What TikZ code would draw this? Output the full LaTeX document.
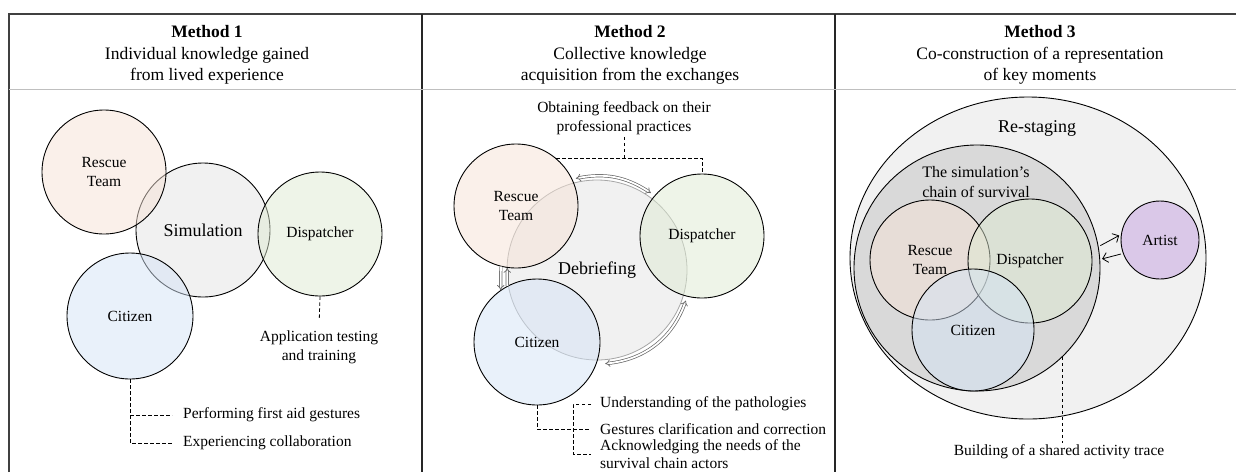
\documentclass[tikz,border=0pt]{standalone}
\usepackage{fontspec}
\setmainfont{Liberation Serif}
\usetikzlibrary{positioning,arrows.meta,shapes.geometric}
\definecolor{rescuecol}{RGB}{245,226,214}
\definecolor{dispcol}{RGB}{222,234,210}
\definecolor{citcol}{RGB}{212,227,245}
\definecolor{simcol}{RGB}{241,241,241}
\definecolor{chaincol}{RGB}{217,217,217}
\definecolor{artcol}{RGB}{218,200,232}
\tikzset{actor/.style={circle,draw,line width=0.9pt,inner sep=0pt,minimum size=124pt,fill opacity=.5,text opacity=1,align=center,font=\fontsize{15.5}{19}\selectfont},
         hub/.style={circle,draw,line width=0.9pt,inner sep=0pt,fill=simcol,align=center,font=\fontsize{18}{22}\selectfont},
         note/.style={align=center,inner sep=2pt,font=\fontsize{15.5}{19}\selectfont},
         head/.style={align=center,font=\fontsize{17.5}{21.5}\selectfont},
         dashline/.style={dashed,dash pattern=on 3.5pt off 2.5pt,line width=0.8pt}
}
\tikzstyle{dbl} = [draw=black!60,line width=0.7pt,double=white,double distance=1.8pt,{Implies[scale=1.2]}-{Implies[scale=1.2]}]
\tikzstyle{swap} = [line width=0.8pt,-{Straight Barb[length=5pt]},shorten <=2pt,shorten >=2pt]

\begin{document}
\begin{tikzpicture}[x=1pt,y=-1pt]
\useasboundingbox (0,0) rectangle (1236,472);

\node[head] (h1) at (207,55) {\textbf{Method 1}\\Individual knowledge gained\\from lived experience};
\node[head] (h2) at (630,55) {\textbf{Method 2}\\Collective knowledge\\acquisition from the exchanges};
\node[head] (h3) at (1040,55) {\textbf{Method 3}\\Co-construction of a representation\\of key moments};

\node[hub,minimum size=134pt] (sim) at (203,230) {Simulation};
\node[actor,fill=rescuecol] (rt1) at (104,172) {Rescue\\Team};
\node[actor,fill=dispcol] (dp1) at (320,234) {Dispatcher};
\node[actor,fill=citcol,minimum size=126pt] (ct1) at (130,316) {Citizen};
\node[note] (app) at (319,347) {Application testing\\and training};
\node[note,anchor=west] (perf) at (181,415) {Performing first aid gestures};
\node[note,anchor=west] (expc) at (181,443) {Experiencing collaboration};
\draw[dashline,shorten >=8pt] (dp1.south) -- (app.north);
\draw[dashline,shorten >=9pt] (ct1.south) |- (expc.west);
\draw[dashline,shorten >=9pt] (ct1.south |- perf.west) -- (perf.west);

\node[hub,draw=gray!70,line width=0.8pt,minimum size=180pt,outer sep=4pt] (deb) at (597,270) {Debriefing};
\node[actor,fill=rescuecol] (rt2) at (516,206) {Rescue\\Team};
\node[actor,fill=dispcol] (dp2) at (702,236) {Dispatcher};
\node[actor,fill=citcol,minimum size=126pt] (ct2) at (537,342) {Citizen};
\draw[dbl] (deb.103) to[bend left=22] (deb.55);
\draw[dbl] (deb.-19) to[bend left=32] (deb.-85);
\draw[dbl,-{Implies[scale=1.2]}] (rt2.-104) -- (ct2.125);
\draw[dbl,-{Implies[scale=1.2]}] (ct2.118) -- (rt2.-98);
\node[note] (fb) at (624,118) {Obtaining feedback on their\\professional practices};
\draw[dashline] (rt2.50) -| (dp2.north);
\draw[dashline] (fb.south) -- (fb.south |- rt2.50);
\node[note,anchor=west] (und) at (598,404) {Understanding of the pathologies};
\node[note,anchor=west] (ges) at (598,429) {Gestures clarification and correction};
\node[note,anchor=west,align=left,font=\fontsize{15.5}{17.5}\selectfont] (ack) at (598,454) {Acknowledging the needs of the\\survival chain actors};
\draw[dashline,shorten >=7pt] (ct2.south) |- (ges.west);
\draw[dashline] ([xshift=-7pt]und.west) -| ([xshift=-25pt]ack.west) -- ([xshift=-7pt]ack.west);

\node[ellipse,draw,line width=0.9pt,fill=simcol,inner sep=0pt,minimum width=356pt,minimum height=322pt] (stage) at (1028,258) {};
\node[hub,fill=chaincol,minimum size=246pt] (chain) at (977,268) {};
\node[hub,fill=none,draw=none] (stagetxt) at (1037,128) {Re-staging};
\node[note,font=\fontsize{16}{20}\selectfont] (chaintxt) at (976,182) {The simulation’s\\chain of survival};
\node[actor,fill=rescuecol,minimum size=120pt] (rt3) at (930,260) {Rescue\\Team};
\node[actor,fill=dispcol] (dp3) at (1030,261) {Dispatcher};
\node[actor,fill=citcol,minimum size=122pt] (ct3) at (973,330) {Citizen};
\node[actor,fill=artcol,fill opacity=1,minimum size=78pt] (art) at (1160,240) {Artist};
\draw[swap] (chain.10) -- (art.172);
\draw[swap] (art.200) -- (chain.4);
\node[note] (trace) at (1059,452) {Building of a shared activity trace};
\draw[dashline] (chain.-46) -- (chain.-46 |- trace.north);

\draw[line width=1.2pt,black!75] (9,472) -- (9,14) -- (1236,14);
\draw[line width=1.8pt,black!85] (422,14) -- (422,472);
\draw[line width=1.8pt,black!85] (835,14) -- (835,472);
\draw[line width=1pt,black!25] (9,89) -- (1236,89);

\end{tikzpicture}
\end{document}
